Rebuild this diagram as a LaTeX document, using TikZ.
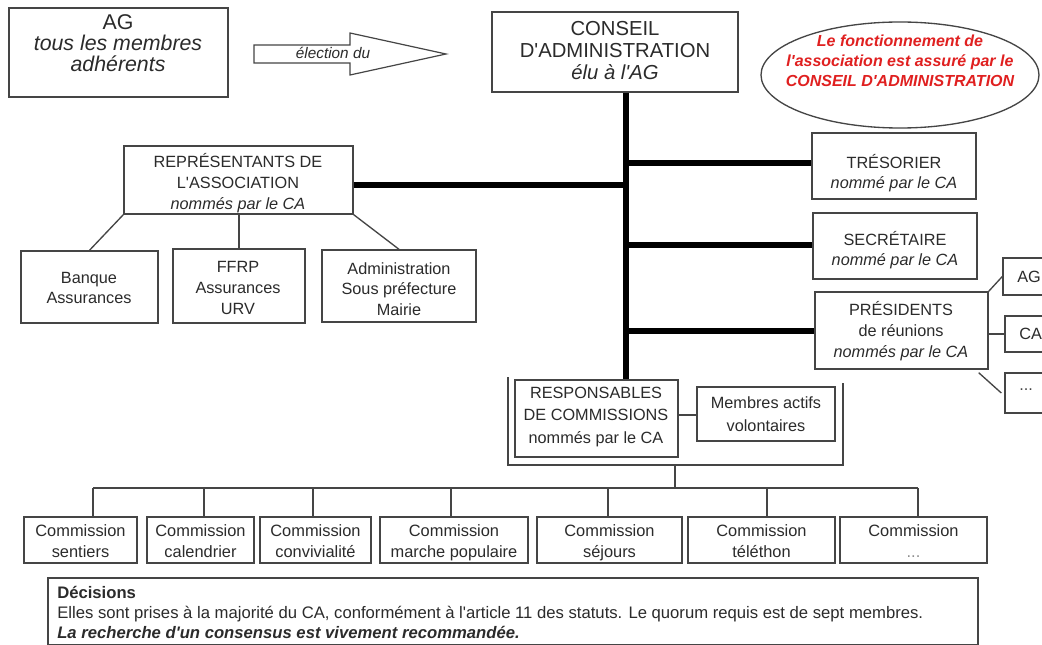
\documentclass[tikz,border=0pt]{standalone}
\usepackage{fontspec}
\setmainfont{Liberation Sans}[Ligatures=TeXOff]
\usetikzlibrary{fit,calc,shapes.geometric}
\definecolor{ink}{HTML}{2B2B2B}
\definecolor{edge}{HTML}{454545}
\definecolor{redtxt}{HTML}{E02020}
\newcommand\fAG{\fontsize{16}{15.75}\selectfont}
\newcommand\fCA{\fontsize{15.2}{16.5}\selectfont}
\newcommand\fMid{\fontsize{12.2}{15.5}\selectfont}
\newcommand\fResp{\fontsize{12.2}{17.2}\selectfont}
\newcommand\fCom{\fontsize{12.3}{15.75}\selectfont}
\newcommand\fDec{\fontsize{12.5}{15}\selectfont}
\newcommand\fNote{\fontsize{12}{15}\selectfont}
\begin{document}
\begin{tikzpicture}[x=0.75pt,y=-0.75pt,
  box/.style={draw=edge,line width=1.05pt,inner sep=0pt},
  txt/.style={inner sep=0pt,text=ink,align=center},
  conn/.style={draw=edge,line width=1pt},
  trunk/.style={draw=black,line width=3.9pt},
]
\useasboundingbox (0,0) rectangle (1042,645);
\fill[white] (0,0) rectangle (1042,645);

% top row
\node[box,fit={(9,8)(228,97)}] (ag) {};
\node[txt,font=\fAG] (agt) at (118,43) {AG\\\textit{tous les membres}\\\textit{adhérents}};

\draw[draw=edge,line width=0.9pt,fill=white] (254,45) -- (350,45) -- (350,33) -- (446,54) -- (350,75) -- (350,63) -- (254,63) -- cycle;
\node[txt,font=\fontsize{11.5}{12}\selectfont\itshape] (elect) at (333,53) {élection du};

\node[box,fit={(492,12)(738,92)}] (ca) {};
\node[txt,font=\fCA] (cat) at (615,51) {CONSEIL\\D'ADMINISTRATION\\\textit{élu à l'AG}};

\node[draw=edge,line width=1pt,ellipse,inner sep=0pt,minimum width=0.75*278pt,minimum height=0.75*106pt] (note) at (900,75) {};
\node[txt,text=redtxt,font=\fNote\bfseries\itshape] (notet) at (900,61) {Le fonctionnement de\\l'association est assuré par le\\CONSEIL D'ADMINISTRATION};

% representants
\node[box,fit={(124,146)(353,214)}] (rep) {};
\node[txt,font=\fMid] (rept) at (238,183) {REPRÉSENTANTS DE\\L'ASSOCIATION\\\textit{nommés par le CA}};
\node[box,fit={(21,251)(158,323)}] (banque) {};
\node[txt,font=\fMid] (banquet) at (89,288) {Banque\\Assurances};
\node[box,fit={(173,249)(305,323)}] (ffrp) {};
\node[txt,font=\fMid] (ffrpt) at (238,288) {FFRP\\Assurances\\URV};
\node[box,fit={(322,250)(476,322)}] (admin) {};
\node[txt,font=\fMid] (admint) at (399,289) {Administration\\Sous préfecture\\Mairie};
\draw[conn] (rep.south west) -- (banque.north);
\draw[conn] (ffrp.north |- rep.south) -- (ffrp.north);
\draw[conn] (rep.south east) -- (admin.north);

% right column
\node[box,fit={(812,133)(976,199)}] (tres) {};
\node[txt,font=\fMid] (trest) at (894,173) {TRÉSORIER\\\textit{nommé par le CA}};
\node[box,fit={(813,213)(977,279)}] (secr) {};
\node[txt,font=\fMid] (secrt) at (895,250) {SECRÉTAIRE\\\textit{nommé par le CA}};
\node[box,fit={(815,292)(988,369)}] (pres) {};
\node[txt,font=\fMid] (prest) at (901,331) {PRÉSIDENTS\\de réunions\\\textit{nommés par le CA}};

\node[box,fit={(1003,258)(1060,295)}] (sag) {};
\node[txt,font=\fMid,anchor=west] (sagt) at (1017,277) {AG};
\node[box,fit={(1005,316)(1060,352)}] (sca) {};
\node[txt,font=\fMid,anchor=west] (scat) at (1019,334) {CA};
\node[box,fit={(1005,373)(1060,413)}] (sdot) {};
\node[txt,font=\fMid,anchor=west,text=edge] (sdott) at (1019,390) {...};
\draw[conn] (pres.north east) -- (sag.west);
\draw[conn] (sca.west -| pres.east) -- (sca.west);
\draw[conn] ($(pres.south east)+(-10,3)$) -- ($(sdot.west)+(-3,0)$);

% trunk
\coordinate (tb) at (626,380);
\coordinate (jtres) at (626,163);
\coordinate (jrep) at (626,185);
\coordinate (jsecr) at (626,245);
\coordinate (jpres) at (626,331);
\draw[trunk] (ca.south -| tb) -- (tb);
\draw[trunk] (jrep -| rep.east) -- (jrep);
\draw[trunk] (jtres) -- (jtres -| tres.west);
\draw[trunk] (jsecr) -- (jsecr -| secr.west);
\draw[trunk] (jpres) -- (jpres -| pres.west);

% responsables group
\node[box,fit={(515,380)(678,457)}] (resp) {};
\node[txt,font=\fResp] (respt) at (596,417) {RESPONSABLES\\DE COMMISSIONS\\nommés par le CA};
\node[box,fit={(697,387)(835,441)}] (memb) {};
\node[txt,font=\fResp] (membt) at (766,414) {Membres actifs\\volontaires};
\draw[conn] (resp.east |- 0,415) -- (memb.west |- 0,415);
\coordinate (uL) at (508,377);
\coordinate (uR) at (843,383);
\coordinate (ub) at (675,465);
\draw[conn] (uL) |- (uR |- ub) -- (uR);

% commissions
\coordinate (b1) at (93,488);
\coordinate (b2) at (204,488);
\coordinate (b3) at (313,488);
\coordinate (b4) at (451,488);
\coordinate (b5) at (608,488);
\coordinate (b6) at (767,488);
\coordinate (b7) at (918,488);
\node[box,fit={(24,517)(137,563)}] (c1) {};
\node[box,fit={(147,517)(254,563)}] (c2) {};
\node[box,fit={(260,517)(371,563)}] (c3) {};
\node[box,fit={(380,517)(528,563)}] (c4) {};
\node[box,fit={(537,517)(682,563)}] (c5) {};
\node[box,fit={(688,517)(835,563)}] (c6) {};
\node[box,fit={(840,517)(987,563)}] (c7) {};
\foreach \i/\t in {1/sentiers,2/calendrier,3/convivialité,4/marche populaire,5/séjours,6/téléthon,7/\textcolor{edge!60}{...}} {
  \node[txt,font=\fCom,anchor=base] (c\i t) at ($(c\i.center)+(0,17)$) {Commission\\\t};
}
\draw[conn] (ub) -- (ub |- b1);
\draw[conn] (b1) -- (b7);
\foreach \i in {1,...,7} { \draw[conn] (b\i) -- (b\i |- c\i.north); }

% decisions
\node[box,fit={(48,578)(978,645)}] (dec) {};
\node[txt,font=\fDec,align=left,anchor=west] (dect) at (57,612) {\textbf{Décisions}\\Elles sont prises à la majorité du CA, conformément à l'article 11 des statuts. Le quorum requis est de sept membres.\\\textbf{\textit{La recherche d'un consensus est vivement recommandée.}}};
\end{tikzpicture}
\end{document}
